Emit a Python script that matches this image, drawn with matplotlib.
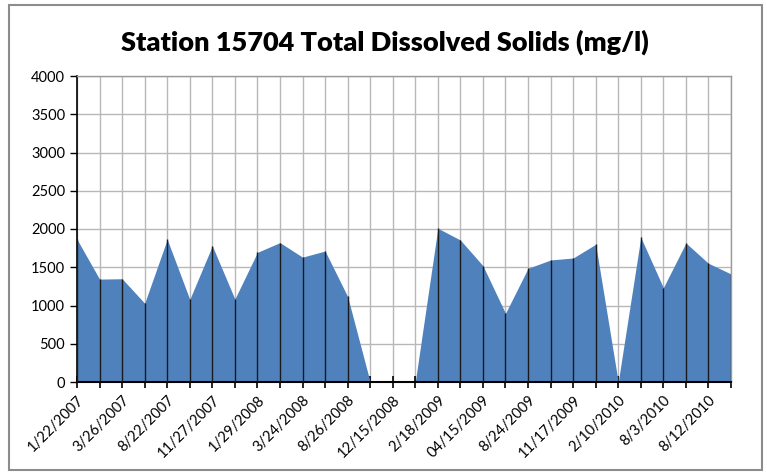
import matplotlib
matplotlib.use("Agg")
import matplotlib.pyplot as plt
from matplotlib.patches import Rectangle
import numpy as np

# Tick labels shown on every other category
labels = ["1/22/2007", "3/26/2007", "8/22/2007", "11/27/2007", "1/29/2008",
          "3/24/2008", "8/26/2008", "12/15/2008", "2/18/2009", "04/15/2009",
          "8/24/2009", "11/17/2009", "2/10/2010", "8/3/2010", "8/12/2010"]
values = [1865, 1345, 1350, 1030, 1865, 1080, 1780, 1085, 1695, 1822,
          1632, 1712, 1118, 0, 0, 0, 2010, 1856, 1520, 898,
          1486, 1595, 1621, 1800, 0, 1891, 1233, 1817, 1552, 1412]

plt.rcParams['font.family'] = ['Lato', 'DejaVu Sans']

fig = plt.figure(figsize=(7.67, 4.76), dpi=100)
ax = fig.add_axes([77/767, 1-382/476, (731-77)/767, (382-76)/476])

x = np.arange(len(values))
ax.fill_between(x, values, 0, color="#4F81BD", linewidth=0, zorder=2)
# drop lines
ax.vlines(x, 0, values, colors="#1a1a1a", linewidth=1.0, zorder=3)

ax.set_xlim(0, len(values) - 1)
ax.set_ylim(0, 4000)
ax.set_yticks(np.arange(0, 4001, 500))
ax.set_xticks(x)
ax.set_xticklabels([labels[i // 2] if i % 2 == 0 else "" for i in x],
                   rotation=45, ha="right", rotation_mode="anchor", fontsize=10.5)
ax.tick_params(axis="y", labelsize=10.5, length=5, width=1, direction="out")
ax.tick_params(axis="x", length=8, width=1.2, direction="inout", pad=4)

ax.grid(True, color="#B8B8B8", linewidth=1.0, zorder=0)
ax.set_axisbelow(True)
for s in ["top", "right"]:
    ax.spines[s].set_color("#9A9A9A")
    ax.spines[s].set_linewidth(1.0)
ax.spines["left"].set_color("black")
ax.spines["bottom"].set_color("black")
ax.spines["left"].set_linewidth(1.2)
ax.spines["bottom"].set_linewidth(1.5)

fig.text(385/767, 1-42/476, "Station 15704 Total Dissolved Solids (mg/l)",
         ha="center", va="center", fontsize=19.5, fontweight="heavy")

fig.patches.append(Rectangle((9/767, 1-470/476), (762-9)/767, (470-5)/476,
                             transform=fig.transFigure, fill=False,
                             edgecolor="#8C8C8C", linewidth=1.5))

fig.savefig("out.png", dpi=100)
